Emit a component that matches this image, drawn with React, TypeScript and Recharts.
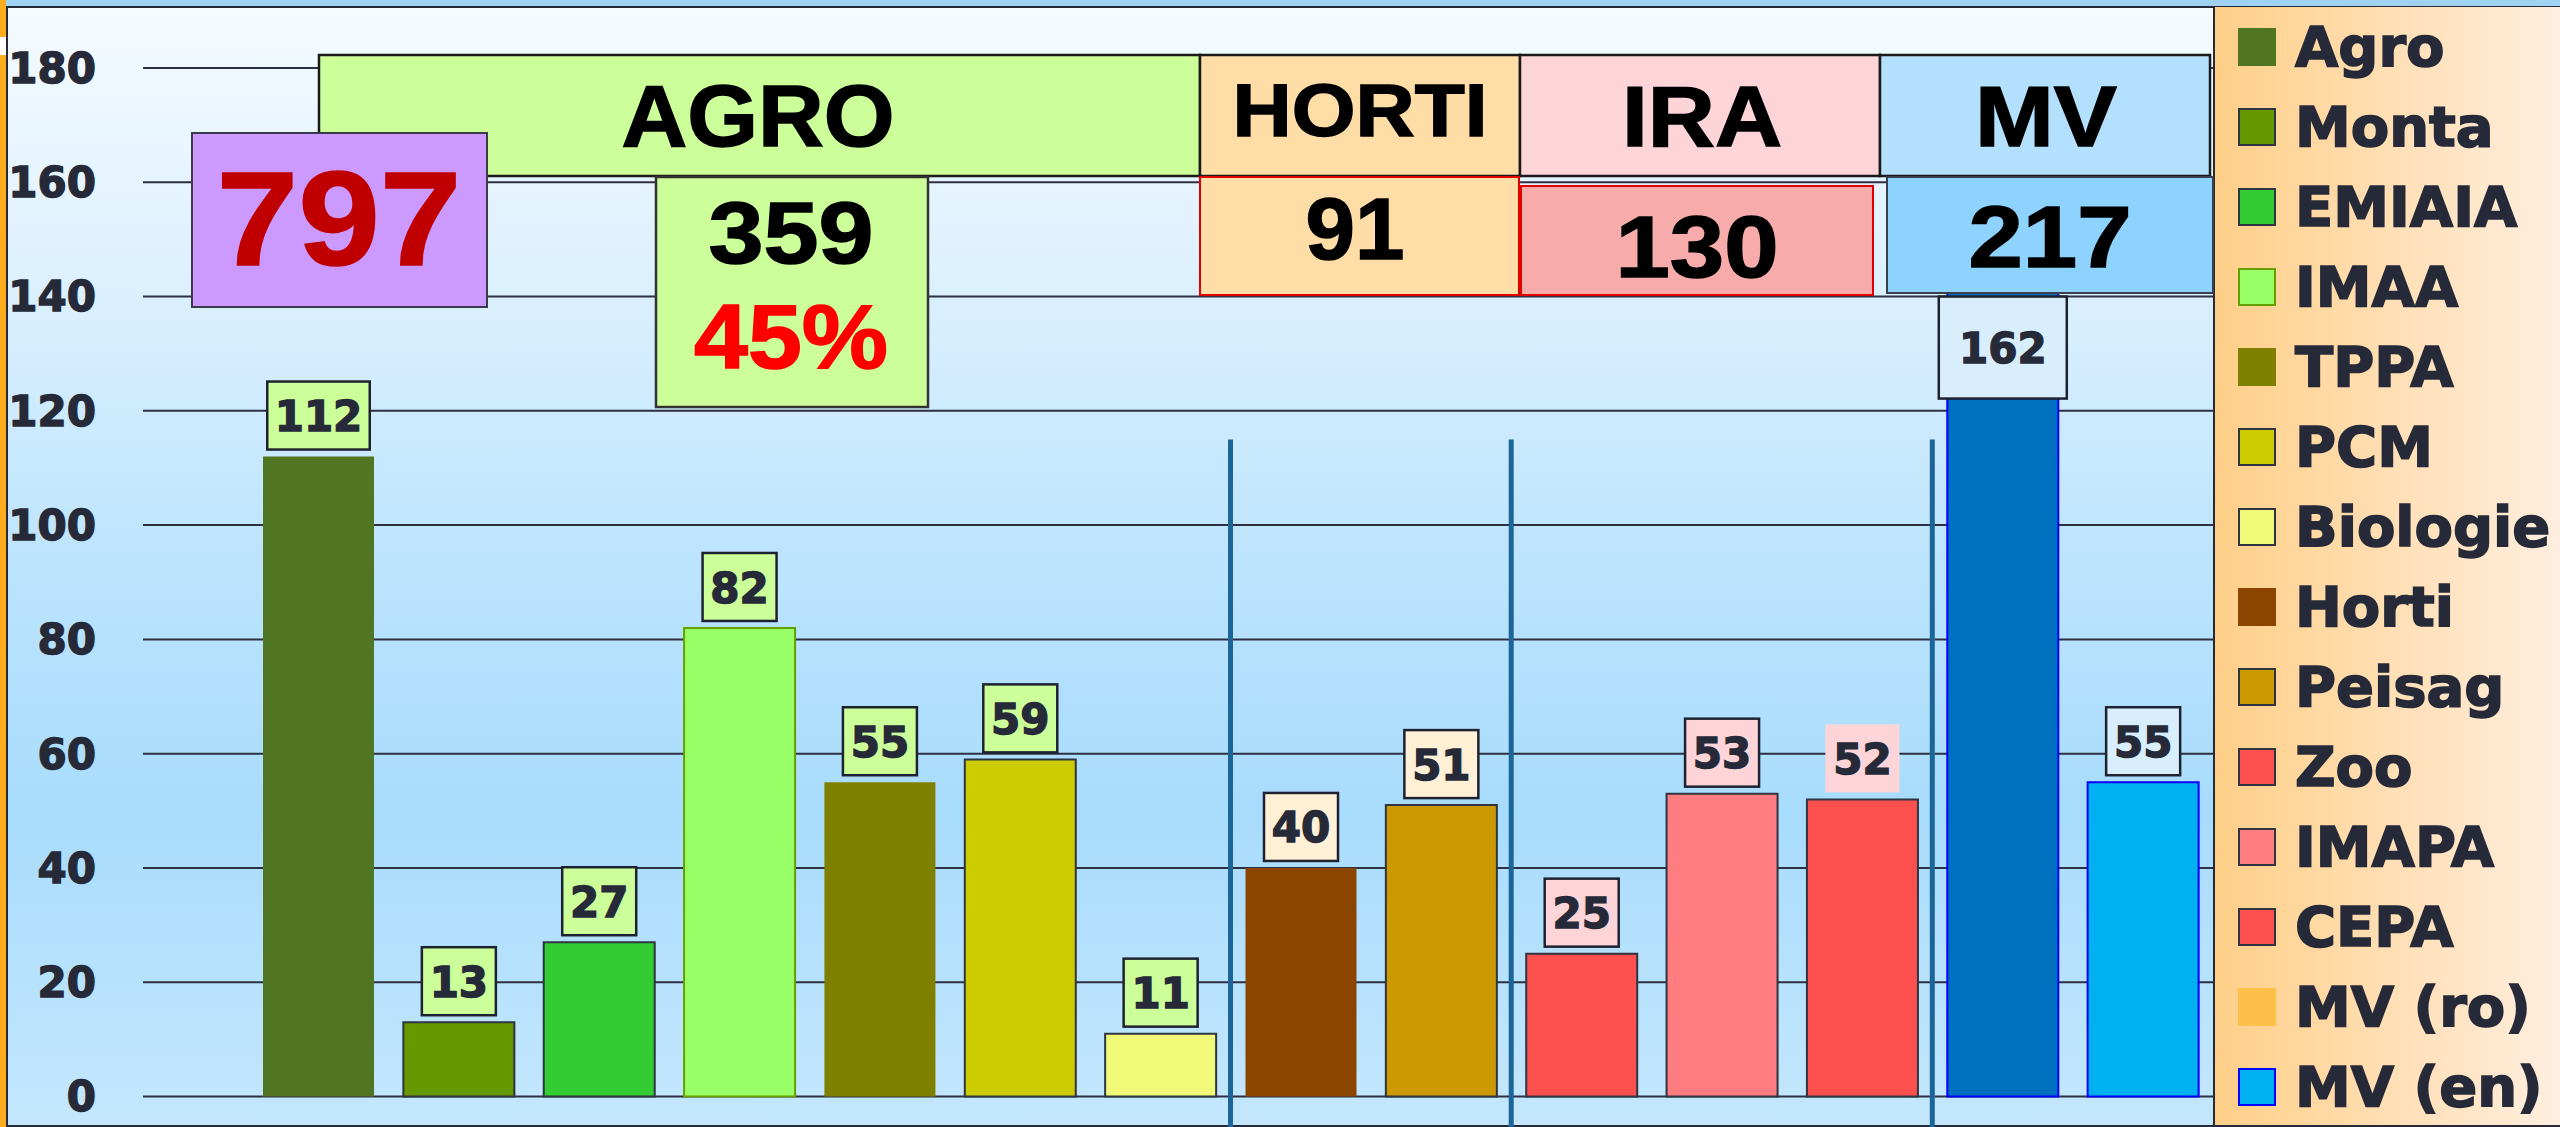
import { BarChart, Bar, XAxis, YAxis, CartesianGrid, Cell, LabelList, Legend, ReferenceLine } from 'recharts';

// Students per faculty / programme
const faculties = ['Agro', 'Monta', 'EMIAIA', 'IMAA', 'TPPA', 'PCM', 'Biologie', 'Horti', 'Peisag', 'Zoo', 'IMAPA', 'CEPA', 'MV (ro)', 'MV (en)'];
const students = [112, 13, 27, 82, 55, 59, 11, 40, 51, 25, 53, 52, 162, 55];
const groupNames = ['AGRO', 'HORTI', 'IRA', 'MV'];
const groupOf = [0, 0, 0, 0, 0, 0, 0, 1, 1, 2, 2, 2, 3, 3];
const yTicks = [0, 20, 40, 60, 80, 100, 120, 140, 160, 180];

const barFills = ['#507624', '#669900', '#33cc33', '#99ff66', '#808000', '#cccc00', '#f0fa78', '#8b4500', '#cc9900', '#ff5050', '#ff7c80', '#ff5050', '#0070c0', '#00b0f0'];
const barStrokes = ['none', '#2e3440', '#2e3440', '#66a000', 'none', '#2e3440', '#2e3440', 'none', '#2e3440', '#2e3440', '#2e3440', '#2e3440', '#0000ff', '#0000ff'];
const legendFills = ['#507624', '#669900', '#33cc33', '#99ff66', '#808000', '#cccc00', '#f0fa78', '#8b4500', '#cc9900', '#ff5050', '#ff7c80', '#ff5050', '#ffc04a', '#00b0f0'];
const legendStrokes = ['none', '#2e3440', '#2e3440', '#66a000', 'none', '#2e3440', '#2e3440', 'none', '#2e3440', '#2e3440', '#2e3440', '#2e3440', 'none', '#0000ff'];
const labelFills = ['#ccff99', '#fff0d6', '#fdd5d8', '#d8eefc'];
const unboxedLabels = ['CEPA'];

// group separators sit on the right edge of these categories
const separatorAfter = ['Biologie', 'Peisag', 'CEPA'];
const SEP_TOP = 115;
const SEP_BOTTOM = -5.5;
const LABEL_CEILING = 140;

const data = faculties.map((name, i) => ({ name, students: students[i] }));
const groupTotals = groupNames.map((_, g) => students.reduce((s, v, i) => (groupOf[i] === g ? s + v : s), 0));
const total = students.reduce((s, v) => s + v, 0);
const agroPct = Math.round((groupTotals[0] / total) * 100) + '%';

const INK = '#262a38';

function ValueBox(props: any) {
  const { index, value } = props;
  const vb = props.viewBox ?? props;
  const { x, y, width, height } = vb;
  if (value == null || !height) return null;
  const base = y + height;
  const perUnit = height / value;
  const cx = x + width / 2;
  let w = String(value).length * 28.5 + 17;
  let h = 68;
  let top = y - 7 - h;
  const ceiling = base - LABEL_CEILING * perUnit;
  if (top < ceiling) {
    top = ceiling;
    w = 128;
    h = 102;
  }
  const boxed = !unboxedLabels.includes(faculties[index]);
  return (
    <g>
      <rect x={cx - w / 2} y={top} width={w} height={h} fill={labelFills[groupOf[index]]} stroke={boxed ? '#1e2230' : 'none'} strokeWidth={2.5} />
      <text x={cx} y={top + h / 2} dy="0.37em" textAnchor="middle" fontFamily="DejaVu Sans" fontWeight="bold" fontSize={42} fill={INK} stroke={INK} strokeWidth={1.4}>
        {value}
      </text>
    </g>
  );
}

function LegendPanel() {
  return (
    <div style={{ width: 347, height: 1118, boxSizing: 'border-box', borderLeft: `2px solid ${INK}`, background: 'linear-gradient(to right, #ffcf88, #ffeedf)' }}>
      {faculties.map((f, i) => (
        <div key={f} style={{ height: 80, display: 'flex', alignItems: 'center' }}>
          <span
            style={{
              display: 'inline-block', width: 38, height: 38, marginLeft: 23, boxSizing: 'border-box',
              background: legendFills[i], border: legendStrokes[i] === 'none' ? 'none' : `2px solid ${legendStrokes[i]}`,
            }}
          />
          <span
            style={{
              marginLeft: 19, fontFamily: 'DejaVu Sans', fontWeight: 'bold', fontSize: 56, color: INK,
              whiteSpace: 'nowrap', lineHeight: 1, WebkitTextStroke: `1.6px ${INK}`,
            }}
          >
            {f}
          </span>
        </div>
      ))}
    </div>
  );
}

const T = {
  fontFamily: 'Liberation Sans, Arial, sans-serif', fontWeight: 'bold' as const, textAnchor: 'middle' as const,
  lengthAdjust: 'spacingAndGlyphs' as const, strokeWidth: 1.5,
};

function Annotations() {
  return (
    <svg width={2560} height={1127} style={{ position: 'absolute', left: 0, top: 0, pointerEvents: 'none' }}>
      {/* group headers */}
      <rect x={319} y={55} width={881} height={121} fill="#ccff99" stroke="#1a1a1a" strokeWidth={2.5} />
      <rect x={1200} y={55} width={320} height={121} fill="#fedda6" stroke="#1a1a1a" strokeWidth={2.5} />
      <rect x={1520} y={55} width={360} height={121} fill="#fdd4d7" stroke="#1a1a1a" strokeWidth={2.5} />
      <rect x={1880} y={55} width={330} height={121} fill="#b3e1fd" stroke="#1a1a1a" strokeWidth={2.5} />
      <text x={758} y={146} fontSize={88} textLength={273} {...T} fill="#000" stroke="#000">{groupNames[0]}</text>
      <text x={1360} y={136} fontSize={75} textLength={255} {...T} fill="#000" stroke="#000">{groupNames[1]}</text>
      <text x={1702} y={146} fontSize={85} textLength={160} {...T} fill="#000" stroke="#000">{groupNames[2]}</text>
      <text x={2046} y={146} fontSize={85} textLength={142} {...T} fill="#000" stroke="#000">{groupNames[3]}</text>

      {/* totals */}
      <rect x={192} y={133} width={295} height={174} fill="#cc99ff" stroke="#3a3a4a" strokeWidth={2} />
      <text x={339} y={265} fontSize={133} textLength={245} {...T} fill="#c00000" stroke="#c00000">{total}</text>

      <rect x={656} y={177} width={272} height={230} fill="#ccff99" stroke="#333" strokeWidth={2.5} />
      <text x={791} y={263} fontSize={88} textLength={165} {...T} fill="#000" stroke="#000">{groupTotals[0]}</text>
      <text x={791} y={368} fontSize={90} textLength={194} {...T} fill="#ff0000" stroke="#ff0000">{agroPct}</text>

      <rect x={1200} y={177} width={319} height={118} fill="#fedda6" stroke="#e00000" strokeWidth={2} />
      <text x={1355} y={259} fontSize={87} textLength={99} {...T} fill="#000" stroke="#000">{groupTotals[1]}</text>

      <rect x={1521} y={186} width={352} height={109} fill="#f8abab" stroke="#e00000" strokeWidth={2} />
      <text x={1697} y={277} fontSize={88} textLength={163} {...T} fill="#000" stroke="#000">{groupTotals[2]}</text>

      <rect x={1887} y={177} width={326} height={116} fill="#8dd3fd" stroke="#3a3f4f" strokeWidth={2} />
      <text x={2050} y={267} fontSize={88} textLength={163} {...T} fill="#000" stroke="#000">{groupTotals[3]}</text>
    </svg>
  );
}

export default function App() {
  return (
    <div style={{ position: 'absolute', left: 0, top: 0, width: 2560, height: 1127, overflow: 'hidden', background: '#a0d2f2' }}>
      <div style={{ position: 'absolute', left: 0, top: 0, width: 6, height: 1127, background: '#ffad1f' }} />
      <div style={{ position: 'absolute', left: 0, top: 37, width: 6, height: 18, background: '#ffffff' }} />
      <div
        style={{
          position: 'absolute', left: 6, top: 6, width: 2560, height: 1121, boxSizing: 'border-box',
          border: `2px solid ${INK}`,
          background: 'linear-gradient(180deg, #f5fbff 0%, #dcf0fe 25%, #bce4fd 50%, #a8dcfc 72%, #c4e7fd 100%)',
        }}
      />
      <div style={{ position: 'absolute', left: 0, top: 0 }}>
        <BarChart width={2560} height={1127} data={data} margin={{ top: 68, right: 0, bottom: 30.5, left: 0 }}>
          <CartesianGrid horizontal vertical={false} stroke="#2c3040" strokeWidth={2} />
          <XAxis dataKey="name" hide padding={{ left: 105, right: 0 }} />
          <YAxis
            domain={[0, 180]}
            ticks={yTicks}
            width={143}
            axisLine={false}
            tickLine={false}
            tickSize={0}
            tickMargin={47}
            tick={{ fill: INK, stroke: INK, strokeWidth: 1.4, fontSize: 42, fontWeight: 700, fontFamily: 'DejaVu Sans' }}
          />
          <Legend
            content={LegendPanel}
            layout="vertical"
            align="right"
            verticalAlign="top"
            width={347}
            height={1118}
            wrapperStyle={{ top: 7, right: 0 }}
          />
          <Bar dataKey="students" barSize={111} isAnimationActive={false}>
            {data.map((d, i) => (
              <Cell key={d.name} fill={barFills[i]} stroke={barStrokes[i]} strokeWidth={2} />
            ))}
            <LabelList dataKey="students" content={ValueBox} />
          </Bar>
          {separatorAfter.map((c) => (
            <ReferenceLine
              key={c}
              segment={[{ x: c, y: SEP_TOP }, { x: c, y: SEP_BOTTOM }]}
              position="end"
              ifOverflow="visible"
              stroke="#1b6598"
              strokeWidth={5}
            />
          ))}
        </BarChart>
      </div>
      <Annotations />
    </div>
  );
}
